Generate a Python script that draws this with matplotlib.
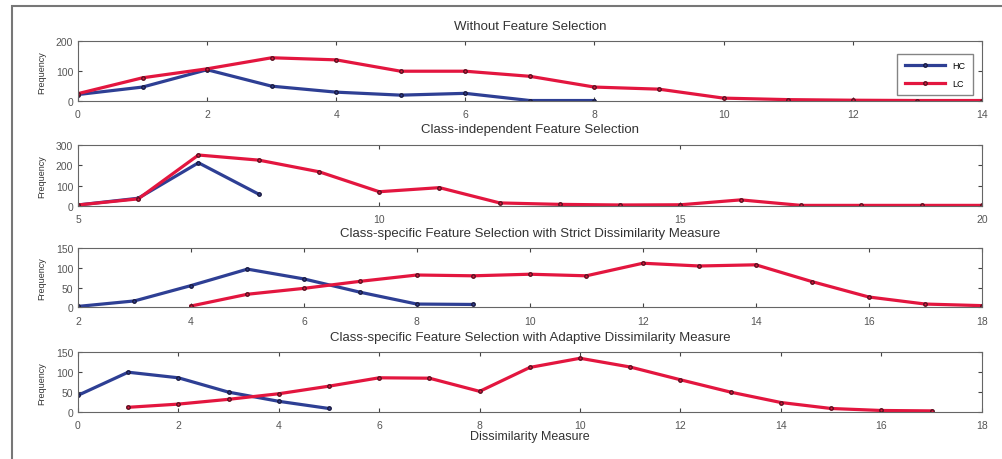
import matplotlib.pyplot as plt
from matplotlib.patches import Rectangle

plt.rcParams['font.family'] = ['Liberation Sans', 'DejaVu Sans']

legend_labels = ['HC', 'LC']

# panel 1: without feature selection
x1_blue = [0, 1, 2, 3, 4, 5, 6, 7, 8]
y1_blue = [22, 47, 105, 50, 30, 20, 26, 2, 2]
x1_red = [0, 1, 2, 3, 4, 5, 6, 7, 8, 9, 10, 11, 12, 13, 14]
y1_red = [25, 78, 108, 145, 138, 100, 100, 83, 47, 40, 10, 5, 3, 2, 2]

# panel 2: class-independent
x2_blue = [5, 6, 7, 8]
y2_blue = [5, 38, 212, 58]
x2_red = [5, 6, 7, 8, 9, 10, 11, 12, 13, 14, 15, 16, 17, 18, 19, 20]
y2_red = [5, 35, 250, 225, 168, 70, 90, 15, 8, 5, 6, 30, 3, 3, 3, 3]

# panel 3: class-specific, strict
x3_blue = [2, 3, 4, 5, 6, 7, 8, 9]
y3_blue = [2, 16, 55, 97, 72, 38, 8, 7]
x3_red = [4, 5, 6, 7, 8, 9, 10, 11, 12, 13, 14, 15, 16, 17, 18]
y3_red = [3, 33, 48, 66, 82, 80, 84, 80, 112, 105, 108, 65, 26, 8, 4]

# panel 4: class-specific, adaptive
x4_blue = [0, 1, 2, 3, 4, 5]
y4_blue = [42, 100, 86, 50, 27, 9]
x4_red = [1, 2, 3, 4, 5, 6, 7, 8, 9, 10, 11, 12, 13, 14, 15, 16, 17]
y4_red = [12, 20, 32, 46, 65, 86, 85, 52, 112, 135, 113, 81, 50, 24, 9, 4, 3]

titles = ['Without Feature Selection',
          'Class-independent Feature Selection',
          'Class-specific Feature Selection with Strict Dissimilarity Measure',
          'Class-specific Feature Selection with Adaptive Dissimilarity Measure']

panels = [
    (x1_blue, y1_blue, x1_red, y1_red, (0, 14), range(0, 15, 2), (0, 200), [0, 100, 200]),
    (x2_blue, y2_blue, x2_red, y2_red, (5, 20), [5, 10, 15, 20], (0, 300), [0, 100, 200, 300]),
    (x3_blue, y3_blue, x3_red, y3_red, (2, 18), range(2, 19, 2), (0, 150), [0, 50, 100, 150]),
    (x4_blue, y4_blue, x4_red, y4_red, (0, 18), range(0, 19, 2), (0, 150), [0, 50, 100, 150]),
]

bottoms = [0.778, 0.55, 0.330, 0.102]
heights = [0.130, 0.133, 0.128, 0.130]

blue = '#2e3f94'
red = '#e3163f'

fig = plt.figure(figsize=(10.02, 4.6), dpi=100)
fig.patches.append(Rectangle((12 / 1002, -0.1), 1.2, 1 - 7 / 460 + 0.1,
                             transform=fig.transFigure, fill=False,
                             edgecolor='#777777', linewidth=1.5))

for i, (xb, yb, xr, yr, xlim, xt, ylim, yt) in enumerate(panels):
    ax = fig.add_axes([0.0778, bottoms[i], 0.902, heights[i]])
    ax.plot(xb, yb, color=blue, lw=2.3, marker='.', ms=5, mec='#1a1a40', label=legend_labels[0])
    ax.plot(xr, yr, color=red, lw=2.3, marker='.', ms=5, mec='#5a1020', label=legend_labels[1])
    ax.set_xlim(*xlim)
    ax.set_ylim(*ylim)
    ax.set_xticks(list(xt))
    ax.set_yticks(yt)
    ax.tick_params(direction='in', labelsize=7.5, length=3, colors='#444444', labelcolor='#555555',
                   top=True, right=True)
    ax.tick_params(axis='x', pad=6)
    for s in ax.spines.values():
        s.set_color('#666666')
    ax.set_ylabel('Frequency', fontsize=6.5, color='#333333', labelpad=7)
    ax.set_title(titles[i], fontsize=9.5, color='#333333', pad=9)
    if i == 0:
        ax.legend(loc='upper right', fontsize=6.5, handlelength=4.5, frameon=True,
                  fancybox=False, edgecolor='#666666', borderpad=0.8, labelspacing=1.0,
                  bbox_to_anchor=(0.995, 0.87))
    if i == 3:
        ax.set_xlabel('Dissimilarity Measure', fontsize=9, color='#333333', labelpad=0)

fig.savefig('out.png', dpi=100)
